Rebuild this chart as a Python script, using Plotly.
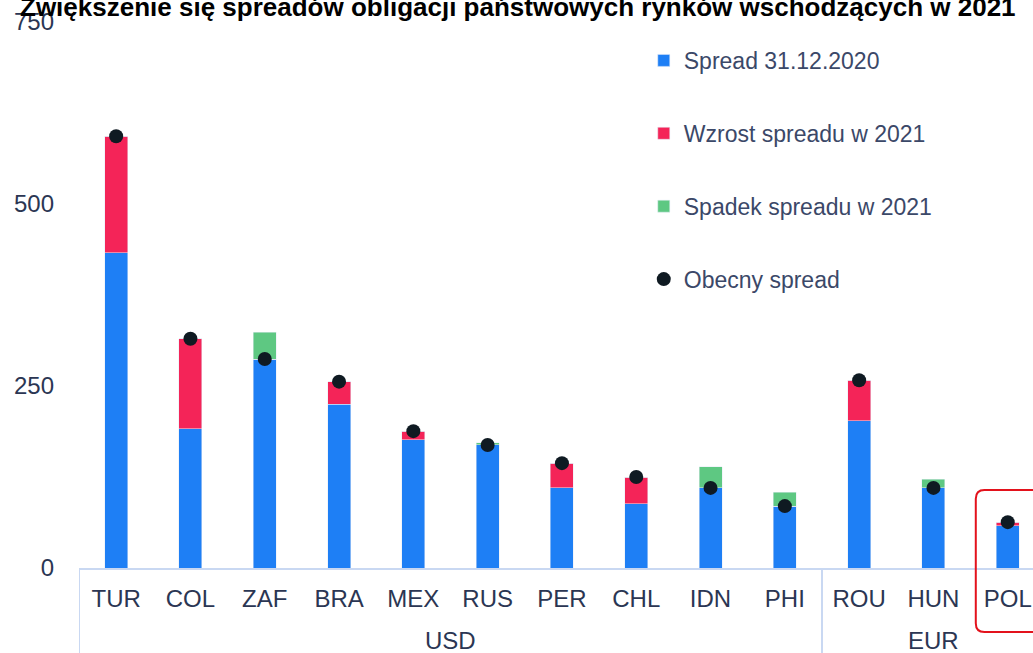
import plotly.graph_objects as go

# ---- data ----
groups = ["USD"] * 10 + ["EUR"] * 3
countries = ["TUR", "COL", "ZAF", "BRA", "MEX", "RUS", "PER", "CHL", "IDN", "PHI", "ROU", "HUN", "POL"]
spread_2020 = [433, 191, 324, 225, 176, 172, 110, 88, 139, 104, 202, 122, 58]
current_spread = [593, 315, 287, 256, 188, 169, 144, 125, 110, 85, 258, 110, 63]
y_ticks = [0, 250, 500, 750]
title_text = "Zwiększenie się spreadów obligacji państwowych rynków wschodzących w 2021"

base = [min(a, b) for a, b in zip(spread_2020, current_spread)]
increase = [max(b - a, 0) for a, b in zip(spread_2020, current_spread)]
decrease = [max(a - b, 0) for a, b in zip(spread_2020, current_spread)]

BLUE = "#1e7ff5"
RED = "#f42458"
GREEN = "#5ec882"
DOT = "#0f1a22"
TXT = "#2b3653"
LEG = "#3b4868"
AXIS = "#c9d8f2"

FONT = "Liberation Sans, Arial, sans-serif"

fig = go.Figure()
fig.add_trace(go.Bar(x=countries, y=base, name="Spread 31.12.2020", marker_color=BLUE,
                     width=0.31, legendgroup="a"))
fig.add_trace(go.Bar(x=countries, y=increase, name="Wzrost spreadu w 2021", marker_color=RED,
                     width=0.31, legendgroup="b"))
fig.add_trace(go.Bar(x=countries, y=decrease, name="Spadek spreadu w 2021", marker_color=GREEN,
                     width=0.31, legendgroup="c"))
fig.add_trace(go.Scatter(x=countries, y=current_spread, name="Obecny spread", mode="markers",
                         marker=dict(color=DOT, size=14), legendgroup="d"))

x_lo, x_hi = -0.5, 12.34
y_lo, y_hi = 0, 750

def px_x(v):
    return (v - x_lo) / (x_hi - x_lo)

def px_y(v):
    return (v - y_lo) / (y_hi - y_lo)

# group labels and dividers (derived from the group membership)
group_names = []
for g in groups:
    if g not in group_names:
        group_names.append(g)
for g in group_names:
    idx = [i for i, gg in enumerate(groups) if gg == g]
    fig.add_annotation(text=g, x=sum(idx) / len(idx), xref="x", y=-0.132, yref="paper",
                       yanchor="middle", showarrow=False,
                       font=dict(family=FONT, size=24, color=TXT))
    fig.add_shape(type="line", xref="x", yref="paper", x0=min(idx) - 0.5, x1=min(idx) - 0.5,
                  y0=0, y1=-0.2, line=dict(color=AXIS, width=2))

# rounded box around POL
pol = countries.index("POL")
bx0, bx1 = px_x(pol - 0.43), px_x(pol + 0.55)
by1, by0 = px_y(107), -0.117
rx, ry = 0.009, 0.016
path = (f"M {bx0+rx},{by1} L {bx1-rx},{by1} Q {bx1},{by1} {bx1},{by1-ry} "
        f"L {bx1},{by0+ry} Q {bx1},{by0} {bx1-rx},{by0} L {bx0+rx},{by0} "
        f"Q {bx0},{by0} {bx0},{by0+ry} L {bx0},{by1-ry} Q {bx0},{by1} {bx0+rx},{by1} Z")
fig.add_shape(type="path", path=path, xref="paper", yref="paper",
              line=dict(color="#e3121c", width=2))

fig.add_annotation(text=f"<b>{title_text}</b>", xref="paper", yref="paper",
                   x=-0.064, y=0.997, xanchor="left", yanchor="bottom", showarrow=False,
                   font=dict(family=FONT, size=26, color="#000000"))

fig.update_layout(
    width=1033, height=653,
    margin=dict(l=79, r=0, t=22, b=85),
    barmode="stack",
    plot_bgcolor="white", paper_bgcolor="white",
    font=dict(family=FONT, size=24, color=TXT),
    showlegend=True,
    legend=dict(x=0.592, y=0.969, xanchor="left", yanchor="top",
                font=dict(size=23, color=LEG), traceorder="grouped",
                tracegroupgap=40, bgcolor="rgba(0,0,0,0)"),
    xaxis=dict(type="category", range=[x_lo, x_hi], showline=True, linecolor=AXIS,
               linewidth=2, showgrid=False, ticks="",
               ticklabelstandoff=8, tickfont=dict(size=24, color=TXT)),
    yaxis=dict(range=[y_lo, y_hi], tickvals=y_ticks, showgrid=False, zeroline=False,
               showline=False, ticklabelstandoff=24, tickfont=dict(size=24, color=TXT)),
)

fig.write_html("out.html", config={"displayModeBar": False},
               post_script="document.body.style.margin='0px';")
